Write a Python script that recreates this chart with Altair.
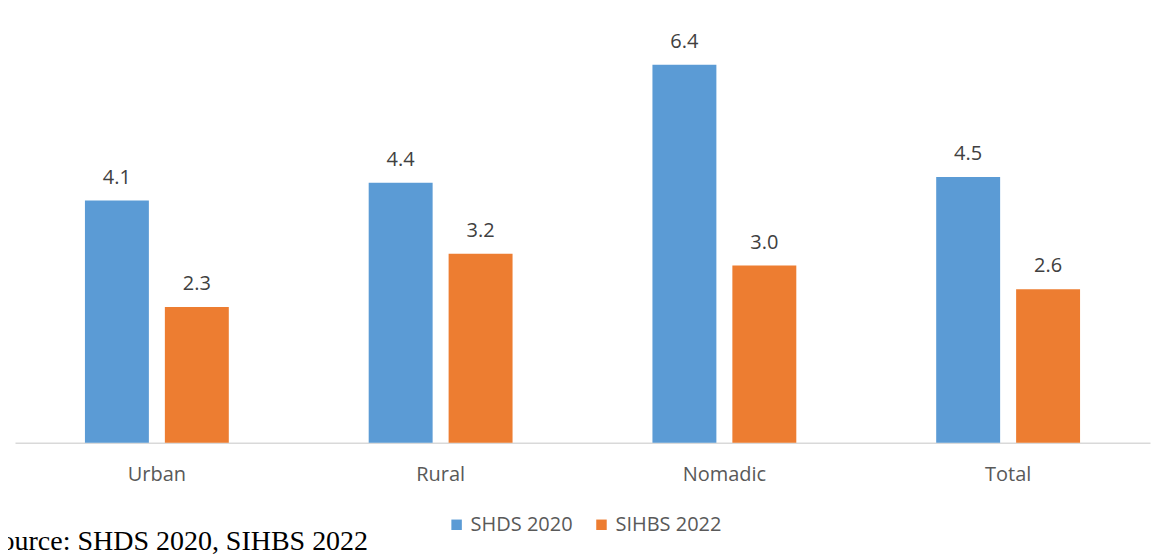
import altair as alt
import pandas as pd

categories = ["Urban", "Rural", "Nomadic", "Total"]
series = ["SHDS 2020", "SIHBS 2022"]
shds_2020 = [4.1, 4.4, 6.4, 4.5]
sihbs_2022 = [2.3, 3.2, 3.0, 2.6]
colors = ["#5B9BD5", "#ED7D31"]
source_note = "Source: SHDS 2020, SIHBS 2022"

rows = []
for c, a, b in zip(categories, shds_2020, sihbs_2022):
    rows.append({"category": c, "series": series[0], "value": a})
    rows.append({"category": c, "series": series[1], "value": b})
df = pd.DataFrame(rows)

x_enc = alt.X(
    "category:N",
    sort=categories,
    title=None,
    scale=alt.Scale(paddingInner=0.493, paddingOuter=0.2465),
    axis=alt.Axis(
        labelFont="Open Sans",
        labelFontSize=20,
        labelColor="#595959",
        labelAngle=0,
        labelBaseline="alphabetic",
        labelPadding=38,
        ticks=False,
        tickSize=0,
        domainColor="#D9D9D9",
        domainWidth=1.5,
        grid=False,
    ),
)
xoff = alt.XOffset("series:N", sort=series, scale=alt.Scale(paddingInner=0.2, paddingOuter=0))
y_enc = alt.Y("value:Q", scale=alt.Scale(domain=[0, 7], nice=False), axis=None)

bars = alt.Chart(df).mark_bar().encode(
    x=x_enc,
    xOffset=xoff,
    y=y_enc,
    color=alt.Color(
        "series:N",
        sort=series,
        scale=alt.Scale(domain=series, range=colors),
        legend=alt.Legend(
            title=None,
            orient="none",
            direction="horizontal",
            legendX=432,
            legendY=486,
            symbolType="square",
            symbolSize=110,
            symbolStrokeWidth=0,
            labelFont="Open Sans",
            labelFontSize=20,
            labelColor="#595959",
            labelOffset=4,
            columnPadding=18,
            padding=0,
        ),
    ),
)

labels = alt.Chart(df).mark_text(
    baseline="alphabetic", dy=-17, font="Open Sans", fontSize=20, color="#404040"
).encode(
    x=alt.X("category:N", sort=categories),
    xOffset=alt.XOffset("series:N", sort=series),
    y="value:Q",
    text=alt.Text("value:Q", format=".1f"),
)

note = alt.Chart(pd.DataFrame({"t": [source_note]})).mark_text(
    align="left", baseline="alphabetic", font="Liberation Serif", fontSize=28, color="#000000"
).encode(x=alt.value(-30), y=alt.value(521), text="t:N")

chart = (
    alt.layer(bars, labels, note)
    .properties(
        width=1136,
        height=414,
        autosize=alt.AutoSizeParams(type="none"),
        padding={"left": 7, "top": 21, "right": 2, "bottom": 111},
        background="white",
    )
    .configure_view(stroke=None)
)

chart.save("out.html", embed_options={"renderer": "svg", "actions": False})
